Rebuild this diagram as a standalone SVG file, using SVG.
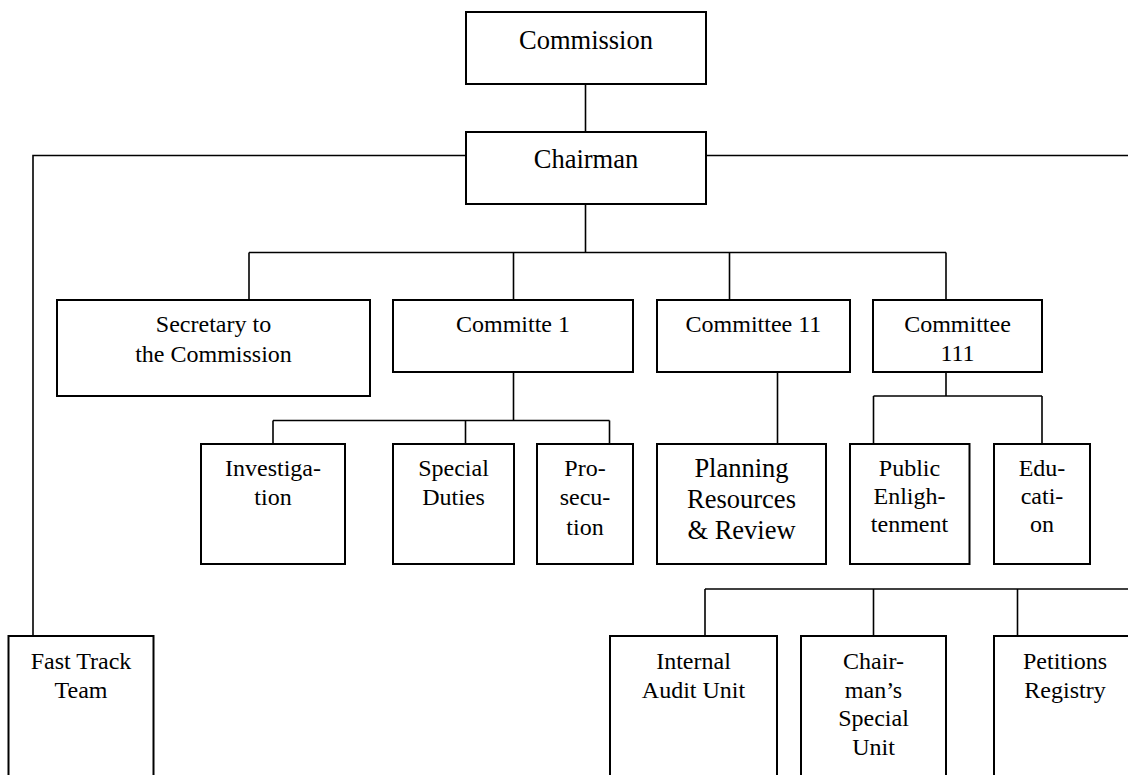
<svg xmlns="http://www.w3.org/2000/svg" width="1128" height="775" viewBox="0 0 1128 775">
<style>
  .box { fill: #ffffff; stroke: #000000; stroke-width: 2; }
  .ln { fill: none; stroke: #000000; stroke-width: 1.6; }
  .t { font-family: "Liberation Serif", "Times New Roman", serif; fill: #000000; text-anchor: middle; font-size: 24px; }
  .tl { font-size: 26.5px; }
</style>
<rect x="0" y="0" width="1128" height="775" fill="#ffffff"/>
<g id="connectors">
  <line class="ln" x1="585.5" y1="84" x2="585.5" y2="132"/>
  <polyline class="ln" points="466,155.5 33,155.5 33,636"/>
  <line class="ln" x1="706" y1="155.5" x2="1130" y2="155.5"/>
  <line class="ln" x1="585.5" y1="204" x2="585.5" y2="252.5"/>
  <line class="ln" x1="249" y1="252.5" x2="946" y2="252.5"/>
  <line class="ln" x1="249" y1="252.5" x2="249" y2="300"/>
  <line class="ln" x1="513.5" y1="252.5" x2="513.5" y2="300"/>
  <line class="ln" x1="729.5" y1="252.5" x2="729.5" y2="300"/>
  <line class="ln" x1="946" y1="252.5" x2="946" y2="300"/>
  <line class="ln" x1="513.5" y1="372" x2="513.5" y2="420.5"/>
  <line class="ln" x1="273" y1="420.5" x2="609.5" y2="420.5"/>
  <line class="ln" x1="273" y1="420.5" x2="273" y2="444"/>
  <line class="ln" x1="465.5" y1="420.5" x2="465.5" y2="444"/>
  <line class="ln" x1="609.5" y1="420.5" x2="609.5" y2="444"/>
  <line class="ln" x1="777.5" y1="372" x2="777.5" y2="444"/>
  <line class="ln" x1="946" y1="372" x2="946" y2="396"/>
  <line class="ln" x1="873.5" y1="396" x2="1042" y2="396"/>
  <line class="ln" x1="873.5" y1="396" x2="873.5" y2="444"/>
  <line class="ln" x1="1042" y1="396" x2="1042" y2="444"/>
  <line class="ln" x1="705" y1="589" x2="1130" y2="589"/>
  <line class="ln" x1="705" y1="589" x2="705" y2="636"/>
  <line class="ln" x1="873.5" y1="589" x2="873.5" y2="636"/>
  <line class="ln" x1="1017.5" y1="589" x2="1017.5" y2="636"/>
</g>
<g id="commission">
  <rect class="box" x="466" y="12" width="240" height="72"/>
  <text class="t tl" x="586" y="49">Commission</text>
</g>
<g id="chairman">
  <rect class="box" x="466" y="132" width="240" height="72"/>
  <text class="t tl" x="586" y="168">Chairman</text>
</g>
<g id="secretary">
  <rect class="box" x="57" y="300" width="313" height="96"/>
  <text class="t" x="213.5" y="331.5">Secretary to</text>
  <text class="t" x="213.5" y="361.5">the Commission</text>
</g>
<g id="committe1">
  <rect class="box" x="393" y="300" width="240" height="72"/>
  <text class="t" x="513" y="332">Committe 1</text>
</g>
<g id="committee11">
  <rect class="box" x="657" y="300" width="193" height="72"/>
  <text class="t" x="753.5" y="332">Committee 11</text>
</g>
<g id="committee111">
  <rect class="box" x="873" y="300" width="169" height="72"/>
  <text class="t" x="957.5" y="332">Committee</text>
  <text class="t" x="957.5" y="360.5">111</text>
</g>
<g id="investigation">
  <rect class="box" x="201" y="444" width="144" height="120"/>
  <text class="t" x="273" y="475.5">Investiga-</text>
  <text class="t" x="273" y="505">tion</text>
</g>
<g id="special-duties">
  <rect class="box" x="393" y="444" width="121" height="120"/>
  <text class="t" x="453.5" y="475.5">Special</text>
  <text class="t" x="453.5" y="505">Duties</text>
</g>
<g id="prosecution">
  <rect class="box" x="537" y="444" width="96" height="120"/>
  <text class="t" x="585" y="475.5">Pro-</text>
  <text class="t" x="585" y="505">secu-</text>
  <text class="t" x="585" y="534.5">tion</text>
</g>
<g id="planning">
  <rect class="box" x="657" y="444" width="169" height="120"/>
  <text class="t tl" x="741.5" y="477">Planning</text>
  <text class="t tl" x="741.5" y="508">Resources</text>
  <text class="t tl" x="741.5" y="539">&amp; Review</text>
</g>
<g id="public-enlightenment">
  <rect class="box" x="850" y="444" width="119.5" height="120"/>
  <text class="t" x="909.5" y="476">Public</text>
  <text class="t" x="909.5" y="504">Enligh-</text>
  <text class="t" x="909.5" y="532">tenment</text>
</g>
<g id="education">
  <rect class="box" x="994" y="444" width="96" height="120"/>
  <text class="t" x="1042" y="476">Edu-</text>
  <text class="t" x="1042" y="504">cati-</text>
  <text class="t" x="1042" y="532">on</text>
</g>
<g id="fast-track">
  <rect class="box" x="8.5" y="636" width="145" height="160"/>
  <text class="t" x="81" y="668.5">Fast Track</text>
  <text class="t" x="81" y="697.5">Team</text>
</g>
<g id="internal-audit">
  <rect class="box" x="610" y="636" width="167" height="160"/>
  <text class="t" x="693.5" y="669">Internal</text>
  <text class="t" x="693.5" y="697.5">Audit Unit</text>
</g>
<g id="chairmans-special-unit">
  <rect class="box" x="801" y="636" width="145" height="160"/>
  <text class="t" x="873.5" y="669">Chair-</text>
  <text class="t" x="873.5" y="697.5">man’s</text>
  <text class="t" x="873.5" y="726">Special</text>
  <text class="t" x="873.5" y="754.5">Unit</text>
</g>
<g id="petitions-registry">
  <rect class="box" x="994" y="636" width="145" height="160"/>
  <text class="t" x="1065" y="669">Petitions</text>
  <text class="t" x="1065" y="697.5">Registry</text>
</g>
</svg>
